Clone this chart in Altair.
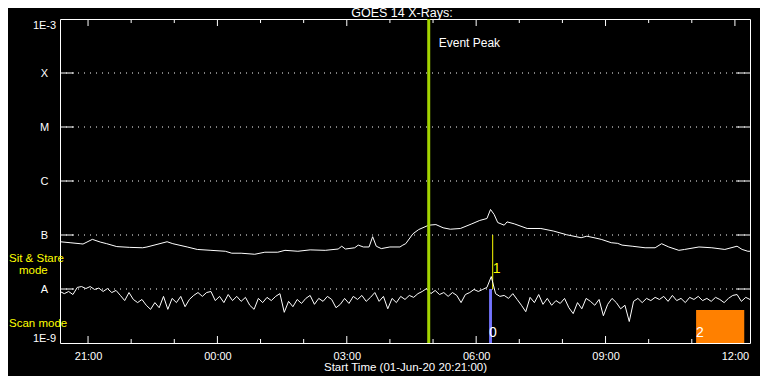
import altair as alt
import pandas as pd

# ---------------- data ----------------
START = "20:21"
END = "12:21"
TITLE = "GOES 14 X-Rays:"

# GOES long channel (1-8 A): minutes after start, flux in units of 1e-8 W/m^2
long_min = [0, 14, 28, 32, 45, 56, 65, 79, 97, 115, 121, 135, 149, 157, 177, 191,
            210, 230, 239, 252, 271, 285, 303, 313, 331, 348, 369, 387, 392, 397,
            410, 415, 422, 430, 435, 440, 447, 459, 473, 477, 481, 491, 499, 513,
            523, 533, 543, 557, 573, 584, 594, 599, 604, 609, 618, 622, 632, 650,
            669, 687, 705, 725, 733, 743, 753, 767, 776, 782, 796, 814, 828, 837,
            847, 861, 869, 889, 907, 925, 942, 949, 957, 960]
long_val = [7.5, 7.2, 6.9, 6.8, 8.3, 7.4, 6.9, 6.1, 5.9, 5.8, 6.0, 6.7, 7.5, 6.9, 6.0, 5.4,
            5.2, 5.0, 4.6, 4.6, 4.4, 4.8, 4.8, 5.2, 5.0, 5.3, 5.2, 5.5, 6.2, 5.5,
            5.8, 6.5, 6.0, 6.0, 9.3, 6.2, 5.6, 6.0, 6.0, 6.5, 6.9, 10.5, 12.6, 15.2,
            15.6, 13.6, 12.8, 13.2, 16.1, 18.6, 20.2, 29.7, 24.0, 17.0, 15.2, 17.5, 16.1, 13.2,
            13.2, 11.8, 10.1, 8.9, 9.5, 8.9, 8.3, 7.2, 7.0, 6.5, 6.2, 5.8, 5.8, 6.9,
            6.0, 5.2, 5.4, 6.0, 5.8, 5.4, 6.2, 5.4, 5.0, 5.0]

# GOES short channel (0.5-4 A): one reading every 6 minutes, units of 1e-9 W/m^2
short_step = 6
short_val = [9.0, 8.2, 9.0, 7.9, 10.7, 11.1, 10.2, 11.1, 9.8, 10.4, 9.0, 10.2, 8.6, 9.4, 7.6, 6.1,
             8.6, 6.4, 5.6, 6.4, 5.0, 4.2, 5.6, 4.5, 7.3, 4.2, 6.7, 5.6, 7.3, 4.7, 6.4, 7.6, 8.6,
             7.3, 8.6, 9.0, 6.1, 7.3, 5.6, 7.9, 6.1, 7.3, 5.9, 7.0, 5.0, 4.2, 6.7, 5.6, 7.0,
             6.1, 7.3, 8.2, 3.7, 5.9, 4.7, 6.4, 5.4, 6.7, 7.6, 5.2, 6.7, 5.9, 7.3, 6.4, 4.5,
             5.2, 6.7, 5.4, 7.3, 6.4, 7.6, 5.9, 7.0, 8.6, 5.9, 7.3, 4.3, 6.7, 5.6, 7.3, 6.4,
             7.6, 7.0, 8.2, 9.0, 10.2, 8.2, 9.4, 7.9, 8.6, 7.3, 8.6, 7.6, 5.6, 7.9, 8.6, 9.8,
             9.0, 9.8, 10.7, 17.0, 8.2, 7.3, 7.6, 6.7, 8.2, 6.4, 5.0, 3.8, 7.0, 5.6, 7.9, 5.2,
             6.7, 5.0, 6.1, 5.4, 6.7, 4.5, 3.5, 5.6, 4.3, 6.7, 5.9, 5.0, 6.4, 3.2, 5.2, 6.7,
             5.6, 4.3, 5.0, 2.5, 5.9, 6.7, 5.6, 6.7, 6.1, 7.0, 6.4, 7.3, 5.9, 7.6, 6.1, 6.7,
             5.6, 7.0, 6.4, 7.3, 6.1, 6.7, 5.9, 7.0, 6.4, 5.6, 6.7, 7.6, 7.9, 5.9, 7.0, 6.4]

# flux classes
class_levels = [1e-9, 1e-8, 1e-7, 1e-6, 1e-5, 1e-4, 1e-3]
class_names = ["1E-9", "A", "B", "C", "M", "X", "1E-3"]

# time axis
hours_all = ["21:00", "22:00", "23:00", "00:00", "01:00", "02:00", "03:00", "04:00",
             "05:00", "06:00", "07:00", "08:00", "09:00", "10:00", "11:00", "12:00"]
hours_major = ["21:00", "00:00", "03:00", "06:00", "09:00", "12:00"]

# event peak
event_time = "04:54"
event_label = "Event Peak"
event_label_flux = 3.6e-4

# instrument modes (blocks drawn at bottom)
mode_names = ["0", "2"]
mode_start = ["06:18", "11:06"]
mode_end = ["06:22", "12:13"]
mode_top = [1.0e-8, 4.1e-9]
mode_colors = ["#7474ff", "#ff8000"]
mode_label_flux = [1.5e-9, 1.5e-9]
# sit & stare marker
ss_name = "1"
ss_time = "06:23"
ss_low, ss_high = 1e-8, 1e-7
ss_label_flux = 2.3e-8

side_text = ["Sit & Stare", "mode", "Scan mode"]
side_flux = [3.6e-8, 2.15e-8, 2.25e-9]

# ---------------- helpers ----------------
def to_ts(hhmm):
    h, m = (int(p) for p in hhmm.split(":"))
    return pd.Timestamp(2020, 6, 1 if h >= 20 else 2, h, m)


def to_dt(hhmm):
    ts = to_ts(hhmm)
    return alt.DateTime(year=ts.year, month=ts.month, date=ts.day,
                        hours=ts.hour, minutes=ts.minute)


t0 = to_ts(START)
FONT = "Liberation Sans"
W, H = 690, 324
YELLOW = "#ffff00"

label_expr = " : ".join(
    f"datum.value < {lvl * 2} ? '{name}'" for lvl, name in zip(class_levels[:-1], class_names[:-1])
) + f" : '{class_names[-1]}'"

x_axis = alt.Axis(values=[to_dt(h) for h in hours_major], format="%H:%M",
                  labelColor="white", labelFont=FONT, labelFontSize=11, labelPadding=7,
                  labelFlush=False, labelOverlap=False,
                  ticks=False, tickSize=0, domain=False, grid=False,
                  title="Start Time (01-Jun-20 20:21:00)", titleColor="white", titleFont=FONT,
                  titleFontSize=11.5, titleFontWeight="normal", titlePadding=0)
y_axis = alt.Axis(values=class_levels, labelExpr=label_expr, labelColor="white",
                  labelFont=FONT, labelFontSize=11, labelAlign="center", labelPadding=16,
                  labelFlush=True, labelOverlap=False, ticks=False, tickSize=0,
                  domain=False, grid=False, title=None)

xs = alt.Scale(domain=[to_dt(START), to_dt(END)], nice=False)
ys = alt.Scale(type="log", domain=[class_levels[0], class_levels[-1]], nice=False)
X = alt.X("t:T", scale=xs, axis=x_axis)
Y = alt.Y("v:Q", scale=ys, axis=y_axis)

long_df = pd.DataFrame({"t": [t0 + pd.Timedelta(minutes=m) for m in long_min],
                        "v": [v * 1e-8 for v in long_val]})
short_df = pd.DataFrame({"t": [t0 + pd.Timedelta(minutes=i * short_step) for i in range(len(short_val))],
                         "v": [v * 1e-9 for v in short_val]})
grid_df = pd.DataFrame({"v": class_levels[1:-1]})
major_df = pd.DataFrame({"t": [to_ts(h) for h in hours_major]})
minor_df = pd.DataFrame({"t": [to_ts(h) for h in hours_all if h not in hours_major]})
mode_df = pd.DataFrame({"t": [to_ts(s) for s in mode_start], "t2": [to_ts(e) for e in mode_end],
                        "v": [class_levels[0]] * len(mode_start), "v2": mode_top, "c": mode_colors})
mode_lab_df = pd.DataFrame({"t": [to_ts(s) for s in mode_start] + [to_ts(ss_time)],
                            "v": mode_label_flux + [ss_label_flux],
                            "txt": mode_names + [ss_name],
                            "c": ["#ffffff", "#ffffff", YELLOW]})
ss_df = pd.DataFrame({"t": [to_ts(ss_time)], "v": [ss_low], "v2": [ss_high]})
ev_df = pd.DataFrame({"t": [to_ts(event_time)], "v": [event_label_flux], "txt": [event_label]})
side_df = pd.DataFrame({"v": side_flux, "txt": side_text})
title_df = pd.DataFrame({"txt": [TITLE]})

grid = alt.Chart(grid_df).mark_rule(color="white", strokeWidth=1, strokeDash=[1, 5]).encode(
    y=Y, x=alt.value(0), x2=alt.value(W))
ytl = alt.Chart(grid_df).mark_rule(color="white").encode(y=Y, x=alt.value(0), x2=alt.value(14))
ytr = alt.Chart(grid_df).mark_rule(color="white").encode(y=Y, x=alt.value(W - 14), x2=alt.value(W))
xt1 = alt.Chart(major_df).mark_rule(color="white").encode(x=X, y=alt.value(0), y2=alt.value(7))
xt2 = alt.Chart(major_df).mark_rule(color="white").encode(x=X, y=alt.value(H - 7), y2=alt.value(H))
xt3 = alt.Chart(minor_df).mark_rule(color="white").encode(x=X, y=alt.value(0), y2=alt.value(4))
xt4 = alt.Chart(minor_df).mark_rule(color="white").encode(x=X, y=alt.value(H - 4), y2=alt.value(H))

modes = alt.Chart(mode_df).mark_rect().encode(
    x=X, x2="t2:T", y=Y, y2="v2:Q", color=alt.Color("c:N", scale=None))
ss_rule = alt.Chart(ss_df).mark_rule(color=YELLOW, strokeWidth=1).encode(x=X, y=Y, y2="v2:Q")

long_line = alt.Chart(long_df).mark_line(color="white", strokeWidth=1).encode(x=X, y=Y)
short_line = alt.Chart(short_df).mark_line(color="white", strokeWidth=1).encode(x=X, y=Y)

ev_rule = alt.Chart(ev_df).mark_rule(color="#a3d400", strokeWidth=3).encode(
    x=X, y=alt.value(0), y2=alt.value(H))
ev_text = alt.Chart(ev_df).mark_text(align="left", baseline="middle", dx=10, color="white",
                                     font=FONT, fontSize=12).encode(x=X, y=Y, text="txt:N")
mode_text = alt.Chart(mode_lab_df).mark_text(align="left", baseline="middle", font=FONT,
                                             fontSize=14).encode(
    x=X, y=Y, text="txt:N", color=alt.Color("c:N", scale=None))
side1 = alt.Chart(side_df[side_df.txt != "mode"]).mark_text(
    align="left", baseline="middle", color=YELLOW, font=FONT, fontSize=11.5).encode(
    x=alt.value(-51), y=Y, text="txt:N")
side2 = alt.Chart(side_df[side_df.txt == "mode"]).mark_text(
    align="left", baseline="middle", color=YELLOW, font=FONT, fontSize=11.5).encode(
    x=alt.value(-41), y=Y, text="txt:N")
title = alt.Chart(title_df).mark_text(
    align="center", baseline="alphabetic", color="white", font=FONT, fontSize=12.5).encode(
    x=alt.value(W / 2 - 3), y=alt.value(-2), text="txt:N")

chart = alt.layer(
    grid, ytl, ytr, xt1, xt2, xt3, xt4, modes, ss_rule, long_line, short_line,
    ev_rule, ev_text, mode_text, side1, side2, title,
).properties(
    width=W, height=H,
    padding={"left": 52, "top": 11, "right": 10, "bottom": 33},
    autosize=alt.AutoSizeParams(type="none"),
    background="black",
).configure_view(stroke="white", strokeWidth=1)

chart.save("out.html", embed_options={"renderer": "svg", "actions": False})
